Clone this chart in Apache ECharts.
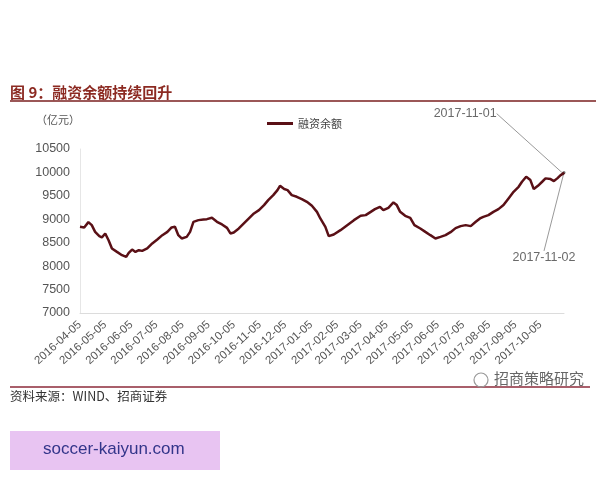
<!DOCTYPE html>
<html>
<head>
<meta charset="utf-8">
<script src="https://cdn.jsdelivr.net/npm/echarts@6/dist/echarts.min.js"></script>
<style>
  html, body { margin: 0; padding: 0; background: #fff; }
  #chart { width: 600px; height: 480px; }
</style>
</head>
<body>
<div id="chart"></div>
<script>
// axis range
const startDate = '2016-04-05';
const endDate = '2017-11-02';
const yTicks = [7000, 7500, 8000, 8500, 9000, 9500, 10000, 10500];

// values (亿元)
const sampleDates = [
  '2016-04-05', '2016-04-10', '2016-04-15', '2016-04-19', '2016-04-23', '2016-04-28', '2016-05-01', '2016-05-05',
  '2016-05-09', '2016-05-13', '2016-05-19', '2016-05-25', '2016-05-30', '2016-06-02', '2016-06-06', '2016-06-10',
  '2016-06-14', '2016-06-18', '2016-06-24', '2016-06-30', '2016-07-06', '2016-07-12', '2016-07-18', '2016-07-23',
  '2016-07-27', '2016-07-31', '2016-08-04', '2016-08-10', '2016-08-14', '2016-08-18', '2016-08-24', '2016-08-30',
  '2016-09-03', '2016-09-09', '2016-09-15', '2016-09-21', '2016-09-27', '2016-10-01', '2016-10-05', '2016-10-11',
  '2016-10-17', '2016-10-23', '2016-10-29', '2016-11-04', '2016-11-10', '2016-11-15', '2016-11-21', '2016-11-26',
  '2016-11-29', '2016-12-04', '2016-12-08', '2016-12-13', '2016-12-19', '2016-12-25', '2016-12-31', '2017-01-06',
  '2017-01-12', '2017-01-16', '2017-01-22', '2017-01-26', '2017-02-01', '2017-02-09', '2017-02-17', '2017-02-25',
  '2017-03-05', '2017-03-11', '2017-03-17', '2017-03-22', '2017-03-28', '2017-04-01', '2017-04-07', '2017-04-13',
  '2017-04-17', '2017-04-21', '2017-04-27', '2017-05-03', '2017-05-08', '2017-05-15', '2017-05-21', '2017-05-27',
  '2017-06-02', '2017-06-08', '2017-06-14', '2017-06-20', '2017-06-26', '2017-07-02', '2017-07-08', '2017-07-14',
  '2017-07-20', '2017-07-25', '2017-07-29', '2017-08-04', '2017-08-10', '2017-08-16', '2017-08-22', '2017-08-28',
  '2017-09-03', '2017-09-09', '2017-09-13', '2017-09-18', '2017-09-23', '2017-09-27', '2017-10-02', '2017-10-07',
  '2017-10-11', '2017-10-17', '2017-10-21', '2017-10-25', '2017-10-29', '2017-11-01', '2017-11-02'
];
const sampleValues = [
  8840, 8826, 8939, 8875, 8732, 8640, 8612, 8698,
  8554, 8377, 8304, 8234, 8197, 8283, 8355, 8304,
  8340, 8326, 8377, 8484, 8569, 8661, 8732, 8826,
  8839, 8661, 8591, 8625, 8732, 8946, 8982, 8997,
  9003, 9031, 8946, 8890, 8817, 8698, 8719, 8804,
  8911, 9018, 9125, 9196, 9303, 9410, 9516, 9623,
  9715, 9645, 9623, 9516, 9480, 9431, 9373, 9288,
  9159, 9018, 8839, 8640, 8676, 8768, 8875, 8982,
  9074, 9089, 9159, 9217, 9266, 9196, 9245, 9360,
  9303, 9159, 9074, 9031, 8875, 8804, 8732, 8661,
  8591, 8625, 8661, 8725, 8811, 8854, 8875, 8854,
  8946, 9018, 9052, 9089, 9159, 9217, 9303, 9446,
  9587, 9694, 9801, 9908, 9837, 9645, 9715, 9801,
  9873, 9858, 9816, 9873, 9944, 9975, 10000
];
const markedDates = ['2017-11-01', '2017-11-02'];

const fmt = d => d.toISOString().slice(0, 10);
const days = [];
for (let d = new Date(startDate + 'T00:00:00Z'); fmt(d) <= endDate; d.setUTCDate(d.getUTCDate() + 1)) {
  days.push(fmt(d));
}
const lineData = sampleDates.map((d, i) => [d, sampleValues[i]]);
const markData = markedDates.map(d => [d, sampleValues[sampleDates.indexOf(d)]]);

const cn = '"Noto Sans CJK SC", sans-serif';
const latin = '"Liberation Sans", Arial, sans-serif';

const chart = echarts.init(document.getElementById('chart'));
chart.setOption({
  animation: false,
  backgroundColor: '#fff',
  title: {
    text: '图 9：融资余额持续回升',
    left: 5,
    top: 80,
    textStyle: { color: '#8c2a22', fontSize: 15, fontWeight: 'bold', fontFamily: cn }
  },
  legend: {
    data: ['融资余额'],
    left: 262,
    top: 113,
    icon: 'rect',
    itemWidth: 26,
    itemHeight: 3,
    itemGap: 6,
    textStyle: { color: '#444', fontSize: 11, fontFamily: cn }
  },
  grid: { left: 80, right: 36, top: 149, bottom: 167 },
  xAxis: {
    type: 'category',
    data: days,
    boundaryGap: false,
    axisLine: { lineStyle: { color: '#dcdcdc' } },
    axisTick: { show: false },
    axisLabel: {
      interval: (idx, val) => val.slice(8) === '05',
      rotate: 42,
      color: '#555',
      fontSize: 11.5,
      fontFamily: latin,
      margin: 10
    },
    splitLine: { show: false }
  },
  yAxis: {
    type: 'value',
    name: '（亿元）',
    nameLocation: 'end',
    nameGap: 24,
    nameTextStyle: { color: '#555', fontSize: 11, fontFamily: cn, align: 'right' },
    min: yTicks[0],
    max: yTicks[yTicks.length - 1],
    interval: 500,
    axisLine: { show: true, lineStyle: { color: '#e6e6e6' } },
    axisTick: { show: false },
    splitLine: { show: false },
    axisLabel: { color: '#555', fontSize: 12.5, fontFamily: latin, margin: 10, formatter: v => String(v) }
  },
  series: [
    {
      name: '融资余额',
      type: 'line',
      data: lineData,
      connectNulls: true,
      showSymbol: false,
      color: '#5a1016',
      lineStyle: { color: '#5a1016', width: 2.5 }
    },
    {
      type: 'scatter',
      data: markData,
      symbolSize: 3,
      itemStyle: { color: '#555' },
      silent: true,
      label: {
        show: true,
        formatter: p => p.value[0],
        color: '#444',
        fontSize: 12.5,
        fontFamily: latin
      },
      labelLine: { show: true, lineStyle: { color: '#999', width: 1 } },
      labelLayout: p => p.dataIndex === 0
        ? { dx: -98, dy: -60 }
        : { dx: -20, dy: 85 }
    }
  ],
  graphic: [
    { type: 'line', shape: { x1: 10, y1: 101, x2: 596, y2: 101 }, style: { stroke: '#7a1f1f', lineWidth: 1.5 } },
    { type: 'line', shape: { x1: 10, y1: 387, x2: 590, y2: 387 }, style: { stroke: '#8c2a3a', lineWidth: 1.5 } },
    { type: 'text', left: 10, top: 390, style: { text: '资料来源：WIND、招商证券', fill: '#333', fontSize: 12.5, fontFamily: cn } },
    { type: 'text', left: 494, top: 371, style: { text: '招商策略研究', fill: '#666', fontSize: 15, fontFamily: cn } },
    { type: 'circle', shape: { cx: 481, cy: 380, r: 7 }, style: { fill: 'none', stroke: '#999', lineWidth: 1.2 } },
    { type: 'rect', shape: { x: 10, y: 431, width: 210, height: 39 }, style: { fill: '#e8c4f2' } },
    { type: 'text', left: 43, top: 441, style: { text: 'soccer-kaiyun.com', fill: '#33358a', fontSize: 17, fontFamily: latin } }
  ]
});
</script>
</body>
</html>
